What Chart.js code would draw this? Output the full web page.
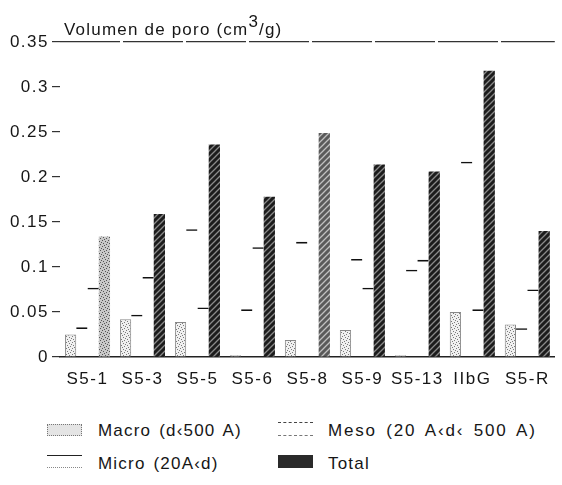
<!DOCTYPE html>
<html>
<head>
<meta charset="utf-8">
<script src="https://cdn.jsdelivr.net/npm/chart.js@4/dist/chart.umd.min.js"></script>
<style>
  body { margin: 0; background: #fff; font-family: "Liberation Sans", Arial, sans-serif; color: #161616; }
  #wrap { position: relative; width: 562px; height: 485px; }
  #box { position: absolute; left: 0; top: 0; width: 562px; height: 400px; }
  #titulo { position: absolute; left: 64px; top: 13px; font-size: 17px; letter-spacing: 1.2px; white-space: nowrap; }
  #titulo sup { font-size: 17px; position: relative; top: -1px; }
  .item { position: absolute; font-size: 17px; letter-spacing: 1.2px; word-spacing: 2px; white-space: nowrap; }
  .sw { position: absolute; width: 35px; height: 12px; box-sizing: border-box; }
</style>
</head>
<body>
<div id="wrap">
  <div id="box"><canvas id="grafico"></canvas></div>
  <div id="titulo">Volumen de poro (cm<sup>3</sup>/g)</div>

  <div class="sw" style="left:47px; top:424px; background:#e4e4e4; border:1px dotted #777;"></div>
  <div class="item" style="left:98px; top:421px;">Macro (d‹500 A)</div>
  <div class="sw" style="left:278px; top:422px; height:14px; border-top:1px dashed #444; border-bottom:1px dashed #777;"></div>
  <div class="item" style="left:328px; top:421px; letter-spacing:1.8px; word-spacing:3px;">Meso (20 A‹d‹ 500 A)</div>
  <div class="sw" style="left:47px; top:455px; height:13px; border-top:1.5px solid #222; border-bottom:1px dotted #888;"></div>
  <div class="item" style="left:98px; top:454px;">Micro (20A‹d)</div>
  <div class="sw" style="left:278px; top:455px; height:13px; background:#2a2a2a;"></div>
  <div class="item" style="left:328px; top:454px;">Total</div>
</div>
<script>
const categorias = ["S5-1", "S5-3", "S5-5", "S5-6", "S5-8", "S5-9", "S5-13", "IIbG", "S5-R"];
const macro = [0.025, 0.042, 0.039, 0.002, 0.019, 0.030, 0.002, 0.050, 0.036];
const meso = [0.033, 0.047, 0.142, 0.053, 0.128, 0.109, 0.097, 0.217, 0.032];
const micro = [0.077, 0.089, 0.055, 0.122, 0, 0.077, 0.108, 0.053, 0.075];
const total = [0.134, 0.159, 0.236, 0.178, 0.249, 0.214, 0.206, 0.318, 0.140];
const ticksY = [0, 0.05, 0.1, 0.15, 0.2, 0.25, 0.3, 0.35];

// pequenos padroes para imitar as tramas do original
function trama(fundo, cor, tipo) {
  const c = document.createElement("canvas");
  c.width = 6; c.height = 6;
  const g = c.getContext("2d");
  g.fillStyle = fundo;
  g.fillRect(0, 0, 6, 6);
  g.fillStyle = cor;
  g.strokeStyle = cor;
  if (tipo === "diag") {
    g.lineWidth = 1.3;
    g.beginPath();
    g.moveTo(0, 6); g.lineTo(6, 0);
    g.moveTo(-3, 3); g.lineTo(3, -3);
    g.moveTo(3, 9); g.lineTo(9, 3);
    g.stroke();
  } else {
    [[0, 0], [3, 1], [1, 3], [4, 4], [5, 2], [2, 5]].forEach(p => g.fillRect(p[0], p[1], 1, 1));
  }
  return g.createPattern(c, "repeat");
}

// espaco entre letras nos textos do canvas (o resize limpa o estado)
const espaco = {
  id: "espaco",
  beforeUpdate: ch => { ch.ctx.letterSpacing = "1.5px"; },
  beforeLayout: ch => { ch.ctx.letterSpacing = "1.5px"; },
  beforeDraw: ch => { ch.ctx.letterSpacing = "1.5px"; }
};

const ctx = document.getElementById("grafico").getContext("2d");
const tramaMacro = trama("#f0f0f0", "#7a7a7a", "pontos");
const tramaTotal = trama("#1c1c1c", "#8a8a8a", "diag");
const coresTotal = total.map((v, i) => {
  if (i === 0) return trama("#c8c8c8", "#555", "pontos");
  if (i === 4) return trama("#5a5a5a", "#c0c0c0", "diag");
  return tramaTotal;
});

new Chart(ctx, {
  type: "bar",
  data: {
    labels: categorias,
    datasets: [
      { label: "Macro (d<500 A)", data: macro, backgroundColor: tramaMacro, borderColor: "#888", borderWidth: 1 },
      { label: "Meso (20 A<d< 500 A)", data: meso, backgroundColor: "rgba(255,255,255,0)", borderColor: "#111",
        borderWidth: { top: 1.6, left: 0, right: 0, bottom: 0 } },
      { label: "Micro (20A<d)", data: micro, backgroundColor: "rgba(255,255,255,0)", borderColor: "#111",
        borderWidth: { top: 1.6, left: 0, right: 0, bottom: 0 } },
      { label: "Total", data: total, backgroundColor: coresTotal, borderWidth: 0 }
    ]
  },
  plugins: [espaco],
  options: {
    responsive: true,
    maintainAspectRatio: false,
    animation: false,
    categoryPercentage: 0.82,
    barPercentage: 1,
    layout: { padding: { top: 42, right: 6, bottom: 7, left: 0 } },
    plugins: {
      legend: { display: false },
      title: { display: false },
      tooltip: { enabled: false }
    },
    scales: {
      x: {
        grid: { display: false, drawTicks: false },
        border: { display: true, color: "#222", width: 1.5 },
        ticks: {
          color: "#161616",
          font: { family: "Liberation Sans", size: 17 },
          padding: 12,
          maxRotation: 0,
          minRotation: 0,
          autoSkip: false
        },
        afterFit: s => { s.height = 36; }
      },
      y: {
        min: 0,
        max: 0.35,
        afterBuildTicks: s => { s.ticks = ticksY.map(v => ({ value: v })); },
        grid: {
          color: c => (c.tick && c.tick.value === 0.35) ? "#333" : "rgba(0,0,0,0)",
          tickColor: "#333",
          tickLength: 8,
          lineWidth: 1.2
        },
        border: { display: false, dash: [60, 3] },
        ticks: {
          color: "#161616",
          font: { family: "Liberation Sans", size: 17 },
          padding: 3,
          callback: v => String(Number(v.toFixed(2)))
        },
        afterFit: s => { s.width = 60; }
      }
    }
  }
});
</script>
</body>
</html>
